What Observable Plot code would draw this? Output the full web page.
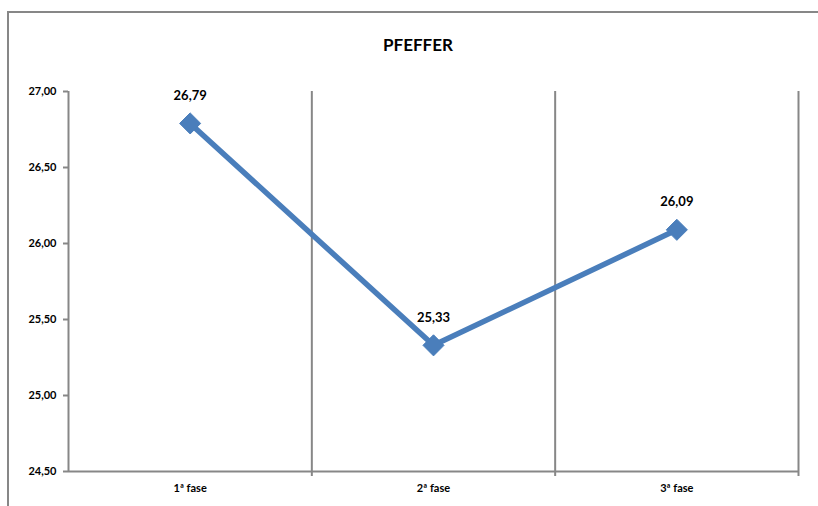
<!DOCTYPE html>
<html>
<head>
<meta charset="utf-8">
<script src="https://cdn.jsdelivr.net/npm/d3@7"></script>
<script src="https://cdn.jsdelivr.net/npm/@observablehq/plot@0.6"></script>
<style>
  html, body { margin: 0; padding: 0; background: #fff; overflow: hidden; }
  #wrap { position: relative; width: 818px; height: 506px; overflow: hidden; font-family: Lato, "Open Sans", sans-serif; }
  #frame { position: absolute; left: 7px; top: 11px; width: 900px; height: 600px; border-left: 2px solid #878787; border-top: 2px solid #878787; box-sizing: border-box; }
  #title { position: absolute; left: 0; width: 836px; top: 34px; text-align: center; font-weight: bold; font-size: 17px; color: #000; }
  #chart { position: absolute; left: 0; top: 0; }
</style>
</head>
<body>
<div id="wrap">
  <div id="frame"></div>
  <div id="title">PFEFFER</div>
  <div id="chart"></div>
</div>
<script>
const categories = ["1ª fase", "2ª fase", "3ª fase"];
const values = [26.79, 25.33, 26.09];
const yTicks = [24.5, 25, 25.5, 26, 26.5, 27];
const boundaries = [1, 2, 3];

const data = categories.map((c, i) => ({cat: c, pos: i + 0.5, value: values[i]}));
const locale = d3.formatLocale({decimal: ",", thousands: ".", grouping: [3], currency: ["", ""]});
const fmt = locale.format(".2f");
const grid = "#878787";

const plot = Plot.plot({
  width: 818,
  height: 506,
  marginLeft: 68,
  marginRight: 20,
  marginTop: 91,
  marginBottom: 35,
  style: {fontFamily: "Lato, 'Open Sans', sans-serif", background: "transparent"},
  x: {type: "linear", domain: [0, 3]},
  y: {domain: [24.5, 27]},
  marks: [
    Plot.ruleX(boundaries, {y1: 27, y2: 24.5, stroke: grid, strokeWidth: 2, insetBottom: -5}),
    Plot.ruleX([0], {y1: 27, y2: 24.5, stroke: grid, strokeWidth: 2}),
    Plot.ruleY([24.5], {x1: 0, x2: 3, stroke: grid, strokeWidth: 2}),
    Plot.axisY({ticks: yTicks, tickFormat: fmt, tickSize: 5, tickPadding: 7, stroke: grid, strokeWidth: 2, fontSize: 11, fontWeight: "bold", fill: "#000", label: null}),
    Plot.axisX({ticks: data.map(d => d.pos), tickFormat: (p) => categories[Math.round(p - 0.5)], tickSize: 0, tickPadding: 13, fontSize: 11, fontWeight: "bold", fill: "#000", label: null}),
    Plot.line(data, {x: "pos", y: "value", stroke: "#4a7ebb", strokeWidth: 5.5}),
    Plot.dot(data, {x: "pos", y: "value", symbol: "diamond2", r: 9.5, fill: "#4a7ebb", stroke: "#4a7ebb", strokeWidth: 1}),
    Plot.text(data, {x: "pos", y: "value", text: d => fmt(d.value), dy: -28, fontSize: 13, fontWeight: "bold", fill: "#000"})
  ]
});
document.getElementById("chart").appendChild(plot);
</script>
</body>
</html>
